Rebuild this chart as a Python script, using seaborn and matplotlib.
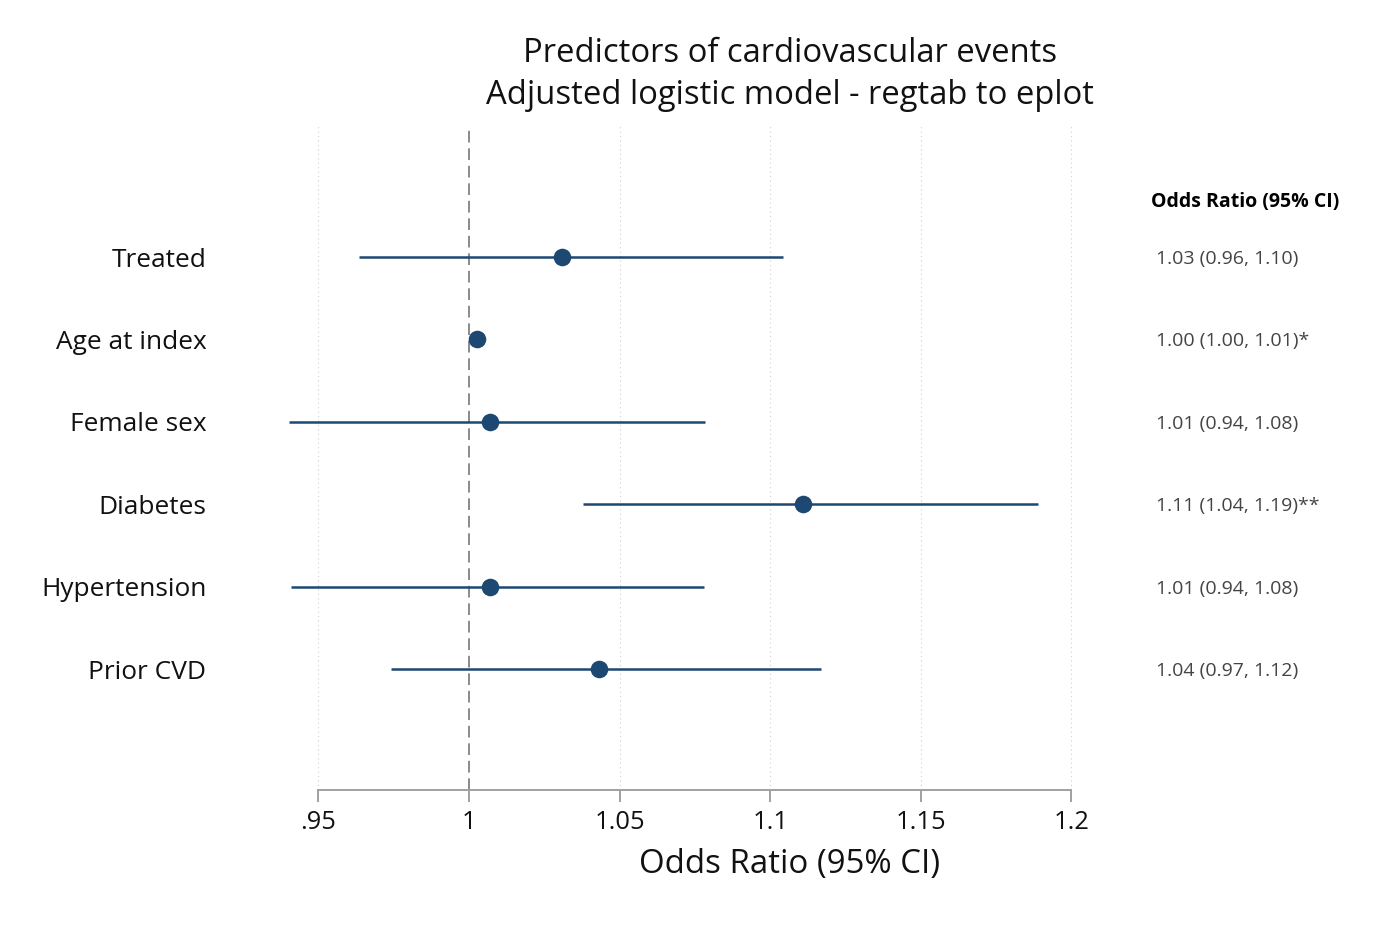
import matplotlib
matplotlib.use("Agg")
import matplotlib.pyplot as plt
import seaborn as sns
import pandas as pd

labels = ["Treated", "Age at index", "Female sex", "Diabetes", "Hypertension", "Prior CVD"]
odds = [1.031, 1.0027, 1.007, 1.1109, 1.007, 1.0432]
ci_lo = [0.9635, 1.0005, 0.9402, 1.0379, 0.9409, 0.9741]
ci_hi = [1.1043, 1.0050, 1.0784, 1.1889, 1.0780, 1.1169]
or_text = ["1.03 (0.96, 1.10)", "1.00 (1.00, 1.01)*", "1.01 (0.94, 1.08)",
           "1.11 (1.04, 1.19)**", "1.01 (0.94, 1.08)", "1.04 (0.97, 1.12)"]
xticks = [0.95, 1.0, 1.05, 1.1, 1.15, 1.2]
xtick_labels = [".95", "1", "1.05", "1.1", "1.15", "1.2"]

sns.set_theme(style="white")
plt.rcParams["font.family"] = ["Open Sans", "Noto Sans", "DejaVu Sans"]

df = pd.DataFrame({"label": labels, "or": odds, "lo": ci_lo, "hi": ci_hi,
                   "pos": list(range(1, len(labels) + 1))})

color = "#1c4871"
fig = plt.figure(figsize=(14, 9.33), dpi=100)
ax = fig.add_axes([230 / 1400, 1 - 790 / 933, 870 / 1400, 665 / 933])

# grid lines
for t in xticks:
    if t != 1.0:
        ax.axvline(t, color="#d0d0d0", linestyle=(0, (1, 3)), linewidth=0.8, zorder=0)
ax.axvline(1.0, color="#8a8a8a", linestyle=(0, (6, 3)), linewidth=1.4, zorder=1)

ax.hlines(df["pos"], df["lo"], df["hi"], color=color, linewidth=1.8, zorder=2)
sns.scatterplot(data=df, x="or", y="pos", ax=ax, color=color, s=160,
                edgecolor=color, linewidth=0, zorder=3, legend=False)

ax.set_xlim(0.92065, 1.2095)
ax.set_ylim(7.468, -0.602)

ax.set_yticks(df["pos"])
ax.set_yticklabels(labels, fontsize=18.9, color="#111111")
ax.tick_params(axis="y", left=False, length=0, pad=17)
ax.set_xticks(xticks)
ax.set_xticklabels(xtick_labels, fontsize=18.4, color="#111111")
ax.tick_params(axis="x", bottom=True, length=8.6, width=1.4, color="#a0a0a0", pad=5.5, direction="out")
ax.set_xlabel("")
ax.set_ylabel("")

for s in ["top", "right", "left"]:
    ax.spines[s].set_visible(False)
ax.spines["bottom"].set_color("#a0a0a0")
ax.spines["bottom"].set_linewidth(1.4)
ax.spines["bottom"].set_bounds(0.95, 1.2)

# text column
xt = 1 + (1156 - 469) / 3012
xh = 1 + (1151 - 469) / 3012
ax.text(xh, 0.33, "Odds Ratio (95% CI)", fontsize=14, fontweight="bold",
        ha="left", va="center", color="#000000", clip_on=False)
for p, t in zip(df["pos"], or_text):
    ax.text(xt, p + 0.025, t, fontsize=14, ha="left", va="center", color="#444444", clip_on=False)

fig.text(790 / 1400, 1 - 53 / 933, "Predictors of cardiovascular events",
         fontsize=23.6, ha="center", va="center", color="#111111")
fig.text(790 / 1400, 1 - 96 / 933, "Adjusted logistic model - regtab to eplot",
         fontsize=23.6, ha="center", va="center", color="#111111")
fig.text(790 / 1400, 1 - 865 / 933, "Odds Ratio (95% CI)",
         fontsize=23.8, ha="center", va="center", color="#111111")

fig.savefig("out.png", dpi=100, facecolor="white")
